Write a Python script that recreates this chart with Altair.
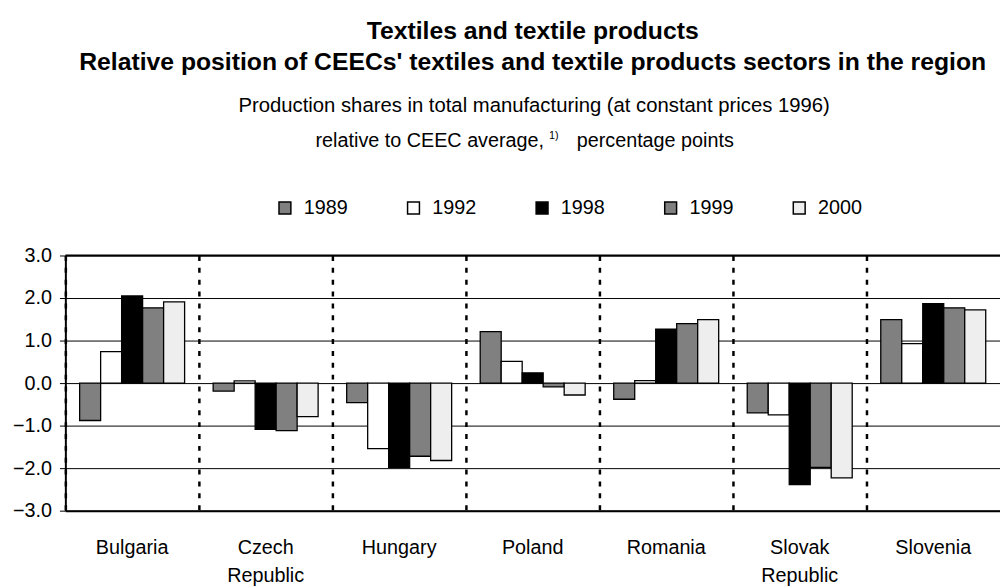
import altair as alt
import pandas as pd

countries = ["Bulgaria", "Czech Republic", "Hungary", "Poland", "Romania", "Slovak Republic", "Slovenia"]
years = ["1989", "1992", "1998", "1999", "2000"]
v1989 = [-0.88, -0.19, -0.46, 1.21, -0.38, -0.70, 1.49]
v1992 = [0.74, 0.05, -1.54, 0.51, 0.06, -0.75, 0.93]
v1998 = [2.05, -1.09, -1.98, 0.24, 1.27, -2.39, 1.87]
v1999 = [1.77, -1.12, -1.72, -0.09, 1.40, -1.98, 1.77]
v2000 = [1.91, -0.79, -1.82, -0.28, 1.49, -2.23, 1.72]
bar_colors = ["#808080", "#ffffff", "#000000", "#808080", "#eeeeee"]
y_ticks = [-3, -2, -1, 0, 1, 2, 3]

title_lines = ["Textiles and textile products",
               "Relative position of CEECs' textiles and textile products sectors in the region"]
subtitle_1 = "Production shares in total manufacturing (at constant prices 1996)"
subtitle_2a = "relative to CEEC average,"
subtitle_2b = "1)"
subtitle_2c = "percentage points"

series = [v1989, v1992, v1998, v1999, v2000]
rows = []
for yr, vals in zip(years, series):
    for c, v in zip(countries, vals):
        rows.append({"country": c, "year": yr, "value": v})
df = pd.DataFrame(rows)

FONT = "Liberation Sans"

bars = alt.Chart(df).mark_bar(stroke="black", strokeWidth=1.3).encode(
    x=alt.X("country:N", sort=countries,
            scale=alt.Scale(paddingInner=0, paddingOuter=0),
            axis=alt.Axis(title=None, labelAngle=0, labelExpr="split(datum.label, ' ')",
                          labelFontSize=20, labelPadding=27, labelLineHeight=29,
                          ticks=False, bandPosition=0,
                          grid=True, gridColor="black", gridWidth=2.5, gridDash=[5, 7],
                          domainColor="black", domainWidth=2)),
    xOffset=alt.XOffset("year:N", sort=years,
                        scale=alt.Scale(paddingInner=0, paddingOuter=0.68)),
    y=alt.Y("value:Q", scale=alt.Scale(domain=[-3, 3], nice=False),
            axis=alt.Axis(title=None, values=y_ticks, format=".1f",
                          labelFontSize=20, labelPadding=8,
                          tickSize=6, tickColor="black", tickWidth=1,
                          grid=True, gridColor="black", gridWidth=1,
                          domainColor="black", domainWidth=2)),
    color=alt.Color("year:N", sort=years,
                    scale=alt.Scale(domain=years, range=bar_colors),
                    legend=alt.Legend(title=None, orient="none", legendX=212, legendY=-58,
                                      direction="horizontal", symbolType="square",
                                      symbolSize=144, symbolStrokeColor="black",
                                      symbolStrokeWidth=1.5, labelFontSize=20,
                                      labelOffset=9, columnPadding=56, padding=0)),
)

top_rule = alt.Chart(pd.DataFrame({"top": [max(y_ticks)]})).mark_rule(
    color="black", strokeWidth=2).encode(y="top:Q")

sub1 = alt.Chart(pd.DataFrame({"t": [subtitle_1]})).mark_text(
    fontSize=20.5, align="center", baseline="alphabetic", font=FONT).encode(
    text="t:N", x=alt.value(474), y=alt.value(-145))
sub2a = alt.Chart(pd.DataFrame({"t": [subtitle_2a]})).mark_text(
    fontSize=20, align="right", baseline="alphabetic", font=FONT).encode(
    text="t:N", x=alt.value(484), y=alt.value(-110))
sub2b = alt.Chart(pd.DataFrame({"t": [subtitle_2b]})).mark_text(
    fontSize=11, align="left", baseline="alphabetic", font=FONT).encode(
    text="t:N", x=alt.value(489), y=alt.value(-118))
sub2c = alt.Chart(pd.DataFrame({"t": [subtitle_2c]})).mark_text(
    fontSize=20, align="left", baseline="alphabetic", font=FONT).encode(
    text="t:N", x=alt.value(517), y=alt.value(-110))

chart = alt.layer(bars, top_rule, sub1, sub2a, sub2b, sub2c).properties(
    width=945, height=258,
    padding={"left": 58, "top": 247, "right": 0, "bottom": 80},
    autosize=alt.AutoSizeParams(type="none"),
    title=alt.TitleParams(text=title_lines, fontSize=25, fontWeight="bold", font=FONT,
                          lineHeight=31, anchor="middle", offset=22, color="black"),
).configure(font=FONT).configure_view(stroke=None).configure_axis(
    labelFont=FONT, labelColor="black").configure_legend(labelFont=FONT, labelColor="black")

chart.save("out.html", embed_options={"renderer": "svg", "actions": False})
